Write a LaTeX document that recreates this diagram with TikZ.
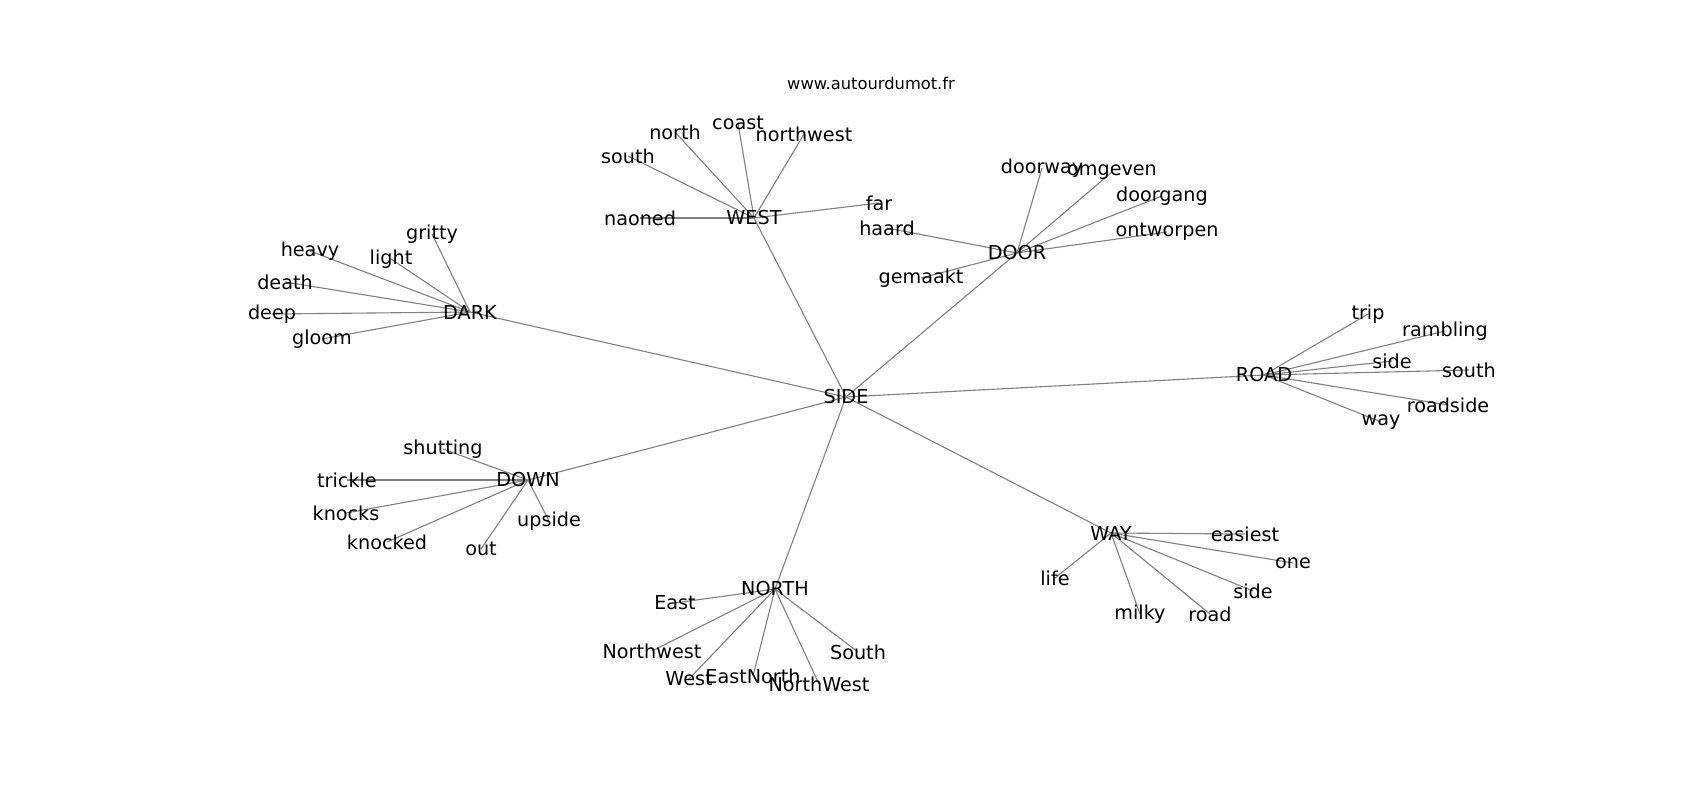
\documentclass[tikz,border=0pt]{standalone}
\usepackage{fontspec}
\setmainfont{DejaVu Sans}
\usetikzlibrary{backgrounds}

\begin{document}
\begin{tikzpicture}[x=1pt, y=-1pt,
  word/.style={inner sep=0pt, font=\fontsize{19.2}{22}\selectfont},
  link/.style={draw=black!50, line width=1.1pt}]
\useasboundingbox (0,0) rectangle (1700,800);

\node[inner sep=0pt, font=\fontsize{16.3}{19}\selectfont] (title) at (871, 83) {www.autourdumot.fr};

% centre
\node[word] (side) at (846, 397) {SIDE};

% WEST
\node[word] (west) at (754, 218) {WEST};
\node[word] (west-north) at (675, 132) {north};
\node[word] (west-coast) at (738, 123) {coast};
\node[word] (west-northwest) at (804, 134) {northwest};
\node[word] (west-south) at (628, 156) {south};
\node[word] (west-naoned) at (640, 218) {naoned};
\node[word] (west-far) at (879, 203) {far};

% DOOR
\node[word] (door) at (1017, 253) {DOOR};
\node[word] (door-doorway) at (1042, 168) {doorway};
\node[word] (door-omgeven) at (1112, 172) {omgeven};
\node[word] (door-doorgang) at (1162, 196) {doorgang};
\node[word] (door-ontworpen) at (1167, 232) {ontworpen};
\node[word] (door-haard) at (887, 228) {haard};
\node[word] (door-gemaakt) at (921, 278) {gemaakt};

% DARK
\node[word] (dark) at (470, 312) {DARK};
\node[word] (dark-gritty) at (432, 234) {gritty};
\node[word] (dark-heavy) at (310, 251) {heavy};
\node[word] (dark-light) at (391, 259) {light};
\node[word] (dark-death) at (285, 282) {death};
\node[word] (dark-deep) at (272, 314) {deep};
\node[word] (dark-gloom) at (322, 339) {gloom};

% ROAD
\node[word] (road) at (1264, 375) {ROAD};
\node[word] (road-trip) at (1368, 314) {trip};
\node[word] (road-rambling) at (1445, 331) {rambling};
\node[word] (road-side) at (1392, 361) {side};
\node[word] (road-south) at (1469, 370) {south};
\node[word] (road-roadside) at (1448, 405) {roadside};
\node[word] (road-way) at (1381, 422) {way};

% DOWN
\node[word] (down) at (528, 480) {DOWN};
\node[word] (down-shutting) at (443, 449) {shutting};
\node[word] (down-trickle) at (347, 480) {trickle};
\node[word] (down-knocks) at (346, 513) {knocks};
\node[word] (down-knocked) at (387, 542) {knocked};
\node[word] (down-out) at (481, 549) {out};
\node[word] (down-upside) at (549, 521) {upside};

% NORTH
\node[word] (north) at (775, 589) {NORTH};
\node[word] (north-East) at (675, 603) {East};
\node[word] (north-Northwest) at (652, 651) {Northwest};
\node[word] (north-South) at (858, 652) {South};
\node[word] (north-West) at (689, 679) {West};
\node[word] (north-EastNorth) at (753, 676) {EastNorth};
\node[word] (north-NorthWest) at (819, 684) {NorthWest};

% WAY
\node[word] (way) at (1111, 533) {WAY};
\node[word] (way-easiest) at (1245, 534) {easiest};
\node[word] (way-one) at (1293, 563) {one};
\node[word] (way-life) at (1055, 578) {life};
\node[word] (way-side) at (1253, 591) {side};
\node[word] (way-milky) at (1140, 614) {milky};
\node[word] (way-road) at (1210, 614) {road};

\begin{pgfonlayer}{background}
% edges from the centre
\foreach \h in {west, door, dark, road, down, north, way}
  \draw[link] (side.center) -- (\h.center);

% edges round each hub
\foreach \w in {north, coast, northwest, south, naoned, far}
  \draw[link] (west.center) -- (west-\w.center);
\foreach \w in {doorway, omgeven, doorgang, ontworpen, haard, gemaakt}
  \draw[link] (door.center) -- (door-\w.center);
\foreach \w in {gritty, heavy, light, death, deep, gloom}
  \draw[link] (dark.center) -- (dark-\w.center);
\foreach \w in {trip, rambling, side, south, roadside, way}
  \draw[link] (road.center) -- (road-\w.center);
\foreach \w in {shutting, trickle, knocks, knocked, out, upside}
  \draw[link] (down.center) -- (down-\w.center);
\foreach \w in {East, Northwest, South, West, EastNorth, NorthWest}
  \draw[link] (north.center) -- (north-\w.center);
\foreach \w in {easiest, one, life, side, milky, road}
  \draw[link] (way.center) -- (way-\w.center);
\end{pgfonlayer}

\end{tikzpicture}
\end{document}
